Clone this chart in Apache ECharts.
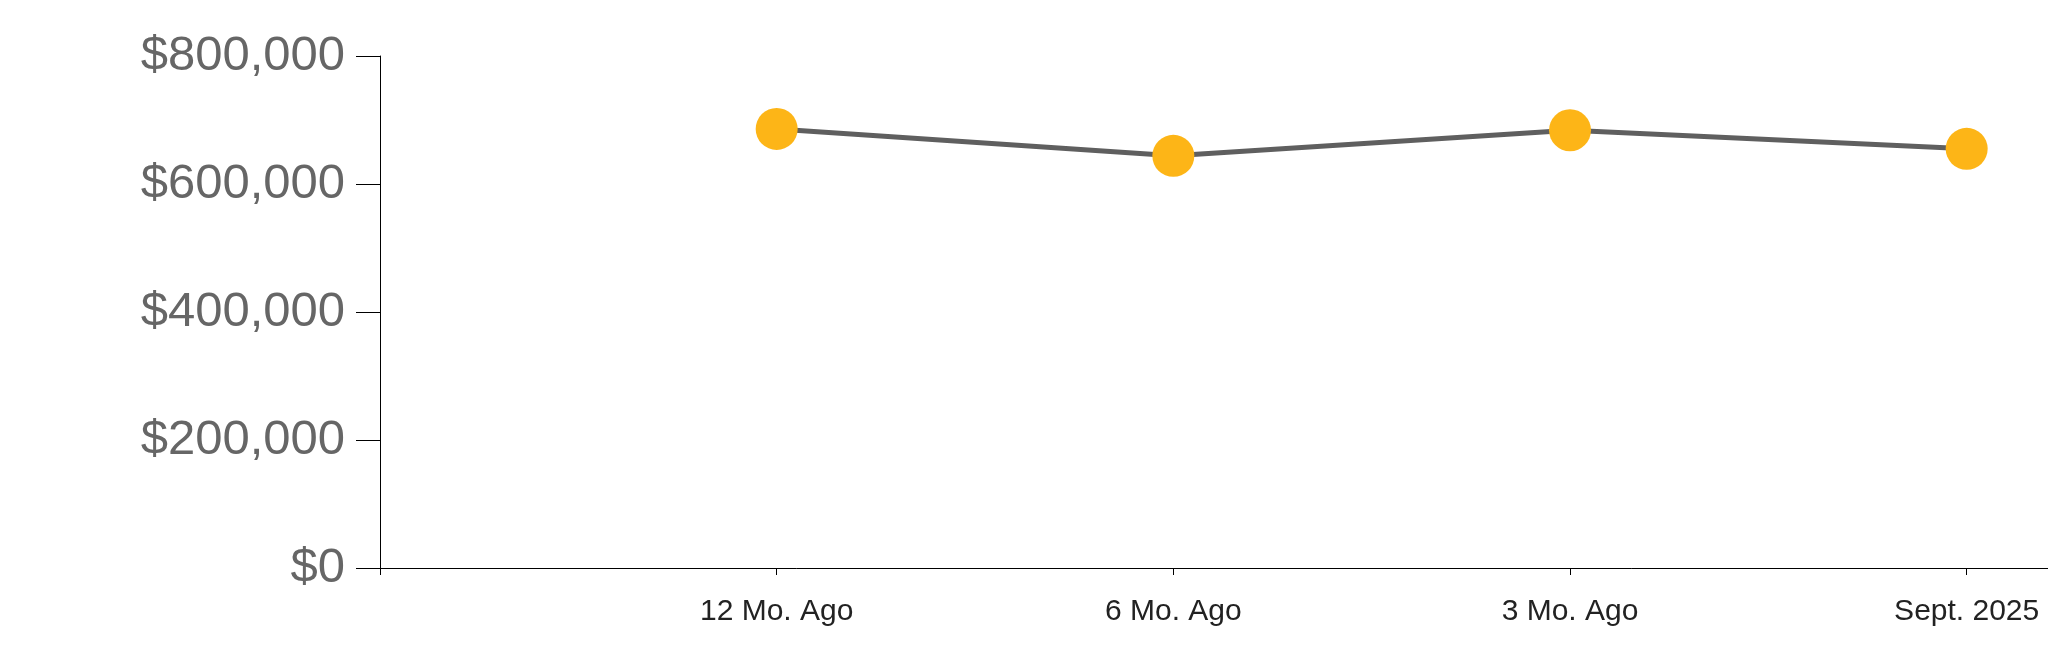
<!DOCTYPE html>
<html>
<head>
<meta charset="utf-8">
<script src="https://cdn.jsdelivr.net/npm/echarts@6/dist/echarts.min.js"></script>
<style>
  html, body { margin: 0; padding: 0; background: #fff; }
  #chart { width: 2048px; height: 663px; }
</style>
</head>
<body>
<div id="chart"></div>
<script>
const categories = ['12 Mo. Ago', '6 Mo. Ago', '3 Mo. Ago', 'Sept. 2025'];
const values = [686000, 644000, 684000, 655000];
const yTicks = [0, 200000, 400000, 600000, 800000];

const positions = categories.map((c, i) => i + 1);
const seriesData = values.map((v, i) => [positions[i], v]);

const chart = echarts.init(document.getElementById('chart'), null, { renderer: 'canvas' });
chart.setOption({
  animation: false,
  backgroundColor: '#ffffff',
  grid: { left: 380, right: 0, top: 56, bottom: 95, containLabel: false },
  xAxis: {
    type: 'value',
    min: 0,
    max: 4.205,
    splitLine: { show: false },
    axisLine: { show: true, lineStyle: { color: '#000', width: 1 } },
    axisTick: { show: true, length: 7, lineStyle: { color: '#000', width: 1 }, customValues: [0].concat(positions) },
    axisLabel: {
      customValues: positions,
      formatter: function (v) { return categories[Math.round(v) - 1] || ''; },
      color: '#222',
      fontSize: 30,
      fontFamily: 'Liberation Sans, Arial, sans-serif',
      margin: 29
    }
  },
  yAxis: {
    type: 'value',
    min: yTicks[0],
    max: yTicks[yTicks.length - 1],
    interval: 200000,
    splitLine: { show: false },
    axisLine: { show: true, lineStyle: { color: '#000', width: 1 } },
    axisTick: { show: true, length: 24, lineStyle: { color: '#000', width: 1 } },
    axisLabel: {
      formatter: function (v) { return '$' + v.toLocaleString('en-US'); },
      color: '#666666',
      fontSize: 49,
      fontFamily: 'Liberation Sans, Arial, sans-serif',
      margin: 35,
      padding: [6, 0, 0, 0]
    }
  },
  series: [{
    type: 'line',
    data: seriesData,
    symbol: 'circle',
    symbolSize: 42,
    lineStyle: { color: '#5f5f5f', width: 5 },
    itemStyle: { color: '#FDB517', borderWidth: 0 },
    z: 3
  }]
});
</script>
</body>
</html>
